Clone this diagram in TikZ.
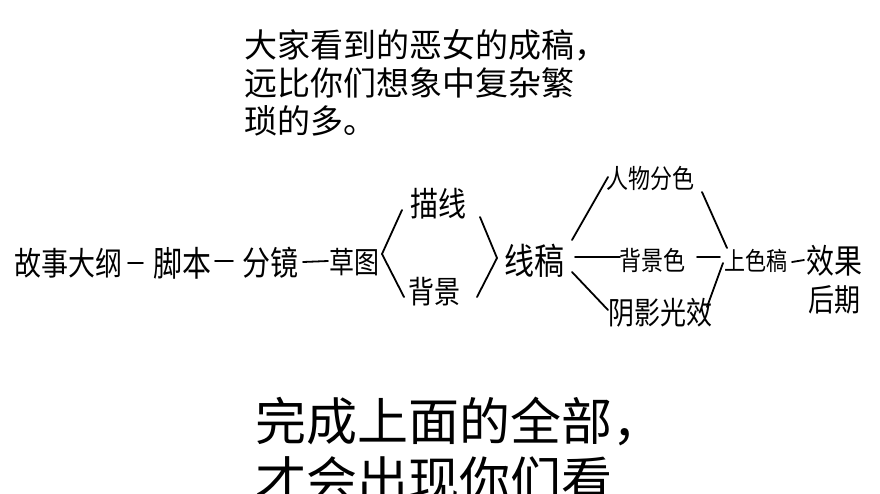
\documentclass[tikz,border=0pt]{standalone}
\usepackage{fontspec}
\newfontfamily\cjk{Noto Sans CJK SC}
\newcommand\fsz[1]{\fontsize{#1}{#1}\selectfont}
\newcommand\tall[1]{\scalebox{1}[1.2]{#1}}
\begin{document}
\begin{tikzpicture}[x=1pt,y=-1pt,
  hw/.style={inner sep=0pt,font=\cjk\fsz{#1}},
  hw/.default=26,
  stroke/.style={line width=1.8pt,line cap=round,line join=round},
  caption/.style={inner sep=0pt,anchor=north west,align=left}]
\useasboundingbox (0,0) rectangle (880,493);
\clip (0,0) rectangle (880,493);
\fill[white] (0,0) rectangle (880,493);
% captions
\node[caption,font=\cjk\fontsize{33}{38}\selectfont] (top) at (244,29)
  {大家看到的恶女的成稿，\\远比你们想象中复杂繁\\琐的多。};
\node[caption,font=\cjk\fontsize{51}{59}\selectfont] (bottom) at (255,397)
  {完成上面的全部，\\才会出现你们看};
% handwritten flow
\node[hw=27] (n1) at (68,263) {\tall{故事大纲}};
\node[hw=29] (n2) at (182,263) {\tall{脚本}};
\node[hw=28] (n3) at (270,263) {\tall{分镜}};
\node[hw=25] (n4) at (354,262) {\tall{草图}};
\node[hw=28] (n5) at (438,204) {\tall{描线}};
\node[hw=26] (n6) at (434,292) {\tall{背景}};
\node[hw=30] (n7) at (534,261) {\tall{线稿}};
\node[hw=22] (n8) at (650,178) {\tall{人物分色}};
\node[hw=22] (n9) at (652,260) {\tall{背景色}};
\node[hw=26] (n10) at (660,313) {\tall{阴影光效}};
\node[hw=21] (n11) at (756,261) {\tall{上色稿}};
\node[hw=28] (n12) at (834,261) {\tall{效果}};
\node[hw=26] (n13) at (834,300) {\tall{后期}};
% connectors
\draw[stroke] ([shift={(60,0)}]n1.center) -- ([shift={(-39,0)}]n2.center);
\draw[stroke] ([shift={(33,-2)}]n2.center) -- ([shift={(-37,-2)}]n3.center);
\draw[stroke] ([shift={(33,-1)}]n3.center) -- ([shift={(-26,-1)}]n4.center);
\draw[stroke] ([shift={(-36,6)}]n5.center) -- ([shift={(28,-8)}]n4.center) -- ([shift={(-30,5)}]n6.center);
\draw[stroke] ([shift={(42,13)}]n5.center) -- ([shift={(-37,-3)}]n7.center) -- ([shift={(43,5)}]n6.center);
\draw[stroke] ([shift={(38,-21)}]n7.center) -- ([shift={(-42,-1)}]n8.center);
\draw[stroke] ([shift={(41,-4)}]n7.center) -- ([shift={(-32,-3)}]n9.center);
\draw[stroke] ([shift={(38,11)}]n7.center) -- ([shift={(-52,-3)}]n10.center);
\draw[stroke] ([shift={(52,14)}]n8.center) -- ([shift={(-29,-13)}]n11.center);
\draw[stroke] ([shift={(45,-3)}]n9.center) -- ([shift={(-36,-4)}]n11.center);
\draw[stroke] ([shift={(47,-6)}]n10.center) -- ([shift={(-33,2)}]n11.center);
\draw[stroke] ([shift={(36,1)}]n11.center) -- ([shift={(-30,-1)}]n12.center);
\end{tikzpicture}
\end{document}
